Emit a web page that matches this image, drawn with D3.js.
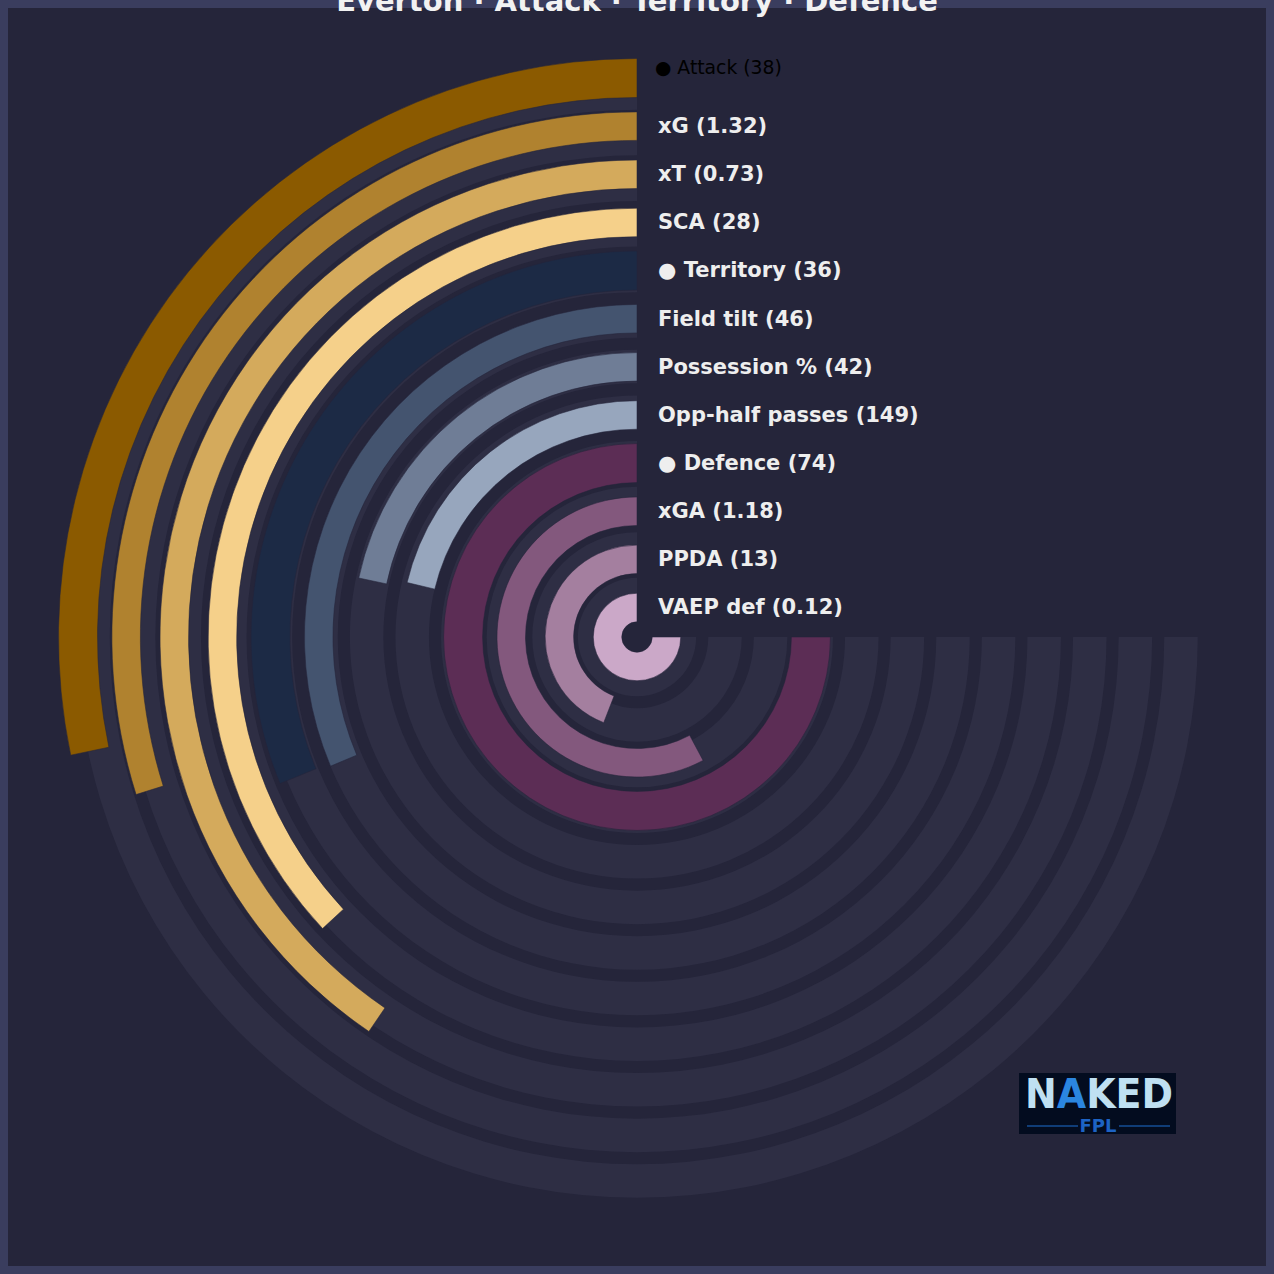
<!DOCTYPE html>
<html>
<head>
<meta charset="utf-8">
<script src="https://cdn.jsdelivr.net/npm/d3@7/dist/d3.min.js"></script>
<style>
  html, body { margin: 0; padding: 0; background: #25253a; }
  svg { display: block; }
</style>
</head>
<body>
<svg id="chart" width="1274" height="1274"></svg>
<script>
// ---- data ----
const metricNames = ["Attack", "xG", "xT", "SCA", "Territory", "Field tilt", "Possession %", "Opp-half passes", "Defence", "xGA", "PPDA", "VAEP def"];
const displayValues = ["38", "1.32", "0.73", "28", "36", "46", "42", "149", "74", "1.18", "13", "0.12"];
const barPercent = [37.7, 39.8, 54.0, 49.2, 41.6, 41.8, 28.9, 28.4, 100, 77.1, 58.8, 100];
const isComposite = [true, false, false, false, true, false, false, false, true, false, false, false];
const barColors = ["#8b5a00", "#b0822f", "#d4aa5c", "#f5d08a", "#1c2a45", "#44546f", "#6f7d96", "#97a6bd", "#5c2d55", "#83587d", "#a47f9f", "#cba8c8"];
const titleText = "Everton · Attack · Territory · Defence";

// ---- layout ----
const W = 1274, H = 1274, cx = 637, cy = 637;
const svg = d3.select("#chart");

svg.append("rect").attr("x", 0).attr("y", 0).attr("width", W).attr("height", H).attr("fill", "#3a3d5e");
svg.append("rect").attr("x", 8).attr("y", 8).attr("width", W - 16).attr("height", H - 16).attr("fill", "#25253a");

const g = svg.append("g").attr("transform", `translate(${cx},${cy})`);

const idx = d3.range(metricNames.length);
const angle = d3.scaleLinear().domain([0, 100]).range([0, -1.5 * Math.PI]);
const barCenter = d3.scaleLinear().domain([0, 11]).range([559, 29.5]);
const trackCenter = d3.scaleLinear().domain([0, 11]).range([544, 42.4]);
const trackThick = 33.5;
const barThick = i => isComposite[i] ? 39 : 28.5;

const arc = d3.arc();

// background tracks
g.selectAll("path.track").data(idx).join("path")
  .attr("class", "track")
  .attr("fill", "#2e2e44")
  .attr("d", i => arc({
    innerRadius: trackCenter(i) - trackThick / 2,
    outerRadius: trackCenter(i) + trackThick / 2,
    startAngle: angle(100), endAngle: angle(0)
  }));

// bars
g.selectAll("path.bar").data(idx).join("path")
  .attr("class", "bar")
  .attr("fill", i => barColors[i])
  .attr("stroke", "#24243a")
  .attr("stroke-opacity", 0.55)
  .attr("stroke-width", 1)
  .attr("d", i => arc({
    innerRadius: barCenter(i) - barThick(i) / 2,
    outerRadius: barCenter(i) + barThick(i) / 2,
    startAngle: angle(barPercent[i]), endAngle: angle(0)
  }));

// labels
const labelX = cx + 21;
svg.selectAll("text.lbl").data(idx).join("text")
  .attr("class", "lbl")
  .attr("x", i => i === 0 ? labelX - 3 : labelX)
  .attr("y", i => cy - barCenter(i) - (i === 0 ? 11 : 0.5))
  .attr("dy", "0.35em")
  .attr("font-family", "DejaVu Sans, sans-serif")
  .attr("font-size", i => i === 0 ? 18.8 : 21)
  .attr("font-weight", i => i === 0 ? "normal" : "bold")
  .attr("fill", i => i === 0 ? "#000000" : "#eeeeee")
  .text(i => (isComposite[i] ? "● " : "") + metricNames[i] + " (" + displayValues[i] + ")");

// title
svg.append("text")
  .attr("x", cx).attr("y", 11)
  .attr("text-anchor", "middle")
  .attr("font-family", "DejaVu Sans, sans-serif")
  .attr("font-size", 29)
  .attr("font-weight", "bold")
  .attr("fill", "#f2f2f2")
  .text(titleText);

// logo
const logo = svg.append("g");
logo.append("rect").attr("x", 1019).attr("y", 1073).attr("width", 157).attr("height", 61).attr("fill", "#030c1f");
const nk = logo.append("text")
  .attr("x", 1025).attr("y", 1108)
  .attr("font-family", "DejaVu Sans, sans-serif")
  .attr("font-size", 40).attr("font-weight", "bold")
  .attr("textLength", 148).attr("lengthAdjust", "spacingAndGlyphs")
  .attr("fill", "#bfe0f2");
nk.append("tspan").text("N");
nk.append("tspan").attr("fill", "#2b86e0").text("A");
nk.append("tspan").text("KED");
logo.append("line").attr("x1", 1027).attr("x2", 1078).attr("y1", 1126).attr("y2", 1126).attr("stroke", "#1f6fd0").attr("stroke-width", 1);
logo.append("line").attr("x1", 1119).attr("x2", 1170).attr("y1", 1126).attr("y2", 1126).attr("stroke", "#1f6fd0").attr("stroke-width", 1);
logo.append("text")
  .attr("x", 1098).attr("y", 1132)
  .attr("text-anchor", "middle")
  .attr("font-family", "DejaVu Sans, sans-serif")
  .attr("font-size", 18).attr("font-weight", "bold")
  .attr("fill", "#1d63c4")
  .text("FPL");
</script>
</body>
</html>
